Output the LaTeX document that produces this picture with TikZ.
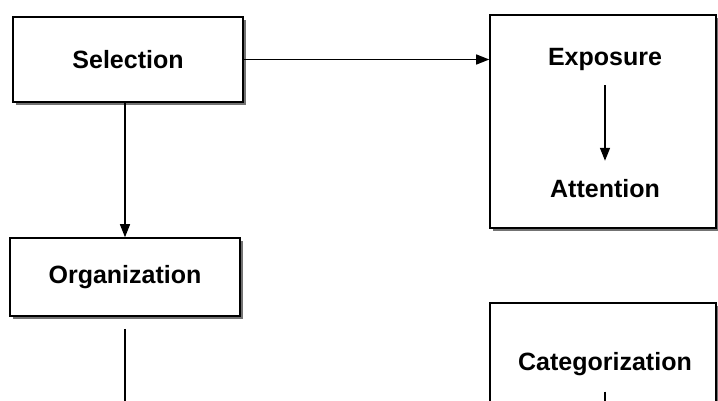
\documentclass[tikz,border=0pt]{standalone}
\usepackage{fontspec}
\setmainfont{Liberation Sans}
\usetikzlibrary{positioning,arrows.meta,shadows}
\tikzset{
  stagebox/.style={draw,line width=1.6pt,fill=white,inner sep=0pt,
    drop shadow={shadow xshift=3pt,shadow yshift=-3pt,fill=black!55,opacity=1}},
  stagetext/.style={font=\fontsize{25}{29}\selectfont\bfseries}
}

\begin{document}
\begin{tikzpicture}[x=1pt,y=-1pt,>={Triangle[length=13pt,width=10pt]},line width=1.4pt]
        \useasboundingbox (0,0) rectangle (718,401);
        % left column
        \node[stagebox,stagetext,minimum width=230pt,minimum height=85pt] (sel) at (128,59.5) {Selection};
        \node[stagebox,stagetext,minimum width=230pt,minimum height=78pt] (org) at (125,277) {Organization};
        % right column
        \node[stagebox,minimum width=226pt,minimum height=213pt] (expbox) at (603,121.5) {};
        \node[stagetext] (exp) at (605,59) {Exposure};
        \node[stagetext] (att) at (605,189) {Attention};
        \node[stagebox,minimum width=226pt,minimum height=140pt] (catbox) at (603,373) {};
        \node[stagetext] (cat) at (605,364) {Categorization};
        \coordinate (orgend) at (125,410);
        \coordinate (catend) at (605,410);
        % connectors
        \draw[->] (sel.east) -- (sel.east -| expbox.west);
        \draw[->] (sel.south -| org.north) -- (org.north);
        \draw[->,shorten <=11pt,shorten >=15pt] (exp.south) -- (att.north);
        \draw[shorten <=12pt] (org.south) -- (orgend);
        \draw[shorten <=12pt] (cat.south) -- (catend);
      \end{tikzpicture}
\end{document}
